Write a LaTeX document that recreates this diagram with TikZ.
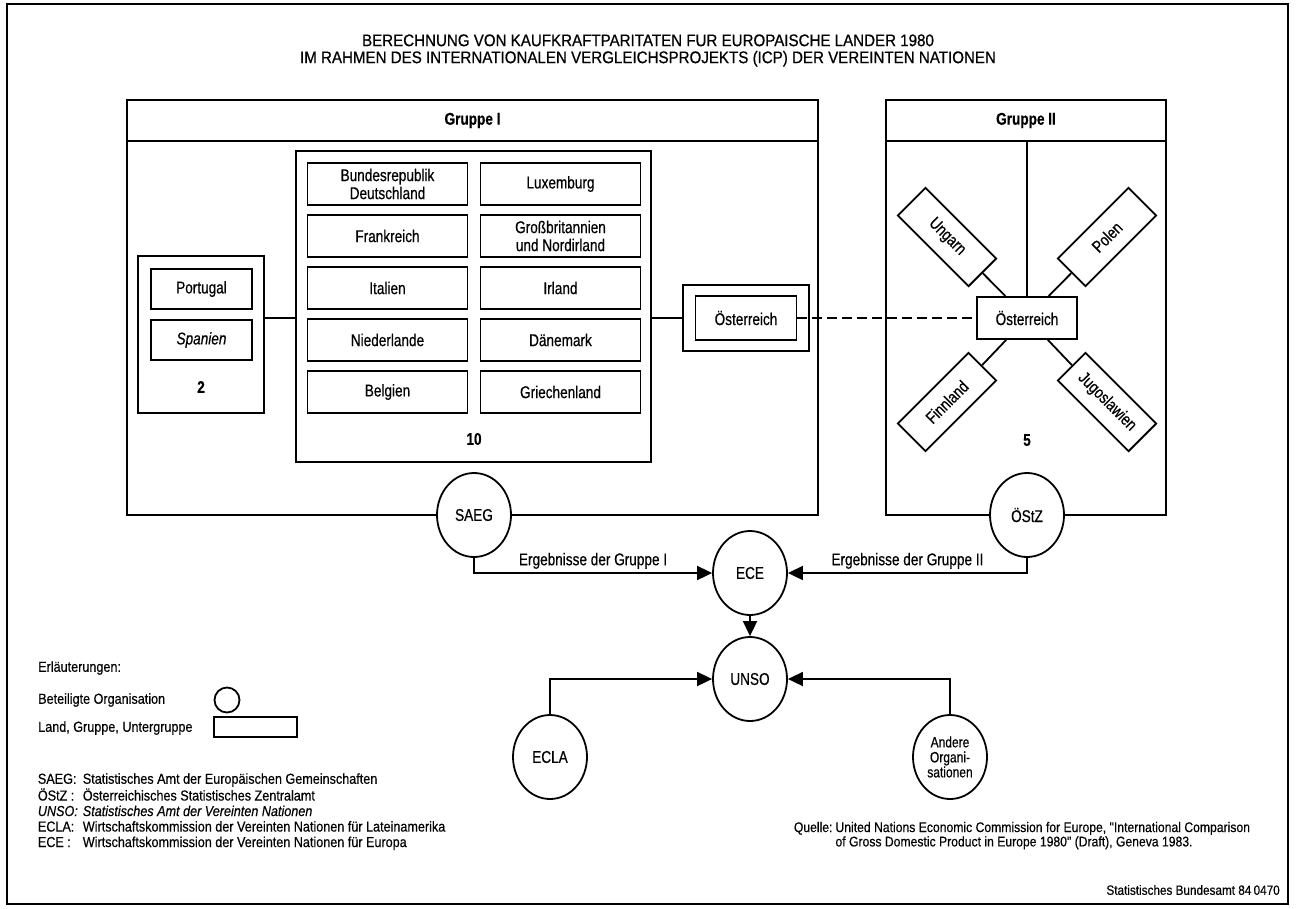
\documentclass[tikz,border=0pt]{standalone}
\usepackage{fontspec}
\setmainfont{Liberation Sans}[FakeStretch=0.8,FakeBold=0.5]
\newfontfamily\titelfont{Liberation Sans}[FakeStretch=0.9,FakeBold=0.6]
\newfontfamily\legfont{Liberation Sans}[FakeStretch=0.87,FakeBold=0.4]
\usetikzlibrary{shapes.geometric,arrows.meta,positioning}
\newcommand\grund{\fontsize{17}{18}\selectfont}
\newcommand\klein{\legfont\fontsize{14.5}{15.5}\selectfont}

\begin{document}
\begin{tikzpicture}[x=1pt,y=-1pt,>={Triangle[length=15pt,width=14pt]},line width=1.8pt,
  node distance=52pt,font=\grund,
  land node/.style={rectangle,draw,minimum width=160pt,minimum height=42pt,align=center,inner sep=2pt},
  org node/.style={ellipse,draw,fill=white,minimum width=74pt,minimum height=84pt,align=center,inner sep=1pt},
  group node/.style={rectangle,draw}]

  \useasboundingbox (0,0) rectangle (1298,908);
  \draw[line width=2pt] (7,4) rectangle (1288,904);

  \node[font=\titelfont\fontsize{16.8}{17}\selectfont,align=center] (titel) at (648,50.5)
    {BERECHNUNG VON KAUFKRAFTPARITATEN FUR EUROPAISCHE LANDER 1980\\
     IM RAHMEN DES INTERNATIONALEN VERGLEICHSPROJEKTS (ICP) DER VEREINTEN NATIONEN};

  % Gruppe I
  \node[group node,minimum width=691pt,minimum height=415pt] (g1) at (472.5,307.5) {};
  \node[group node,minimum width=691pt,minimum height=41pt,anchor=north,font=\grund\bfseries] (g1h) at (g1.north) {Gruppe I};

  \node[group node,minimum width=355pt,minimum height=311pt] (b10) at (473.5,306.5) {};
  \node[land node] (brd) at (387.5,184) {Bundesrepublik\\Deutschland};
  \node[land node] (fra) [below of=brd] {Frankreich};
  \node[land node] (ita) [below of=fra] {Italien};
  \node[land node] (nl) [below of=ita] {Niederlande};
  \node[land node] (bel) [below of=nl] {Belgien};
  \node[land node] (lux) [node distance=173pt,right of=brd] {Luxemburg};
  \node[land node] (gb) [below of=lux] {Großbritannien\\und Nordirland};
  \node[land node] (irl) [below of=gb] {Irland};
  \node[land node] (dk) [below of=irl] {Dänemark};
  \node[land node] (gr) [below of=dk] {Griechenland};
  \node[font=\grund\bfseries] (n10) at (474,439) {10};

  \node[group node,minimum width=126pt,minimum height=157pt] (b2) at (201,334.5) {};
  \node[land node,minimum width=101pt,minimum height=40pt] (por) at (201.5,289) {Portugal};
  \node[land node,minimum width=101pt,minimum height=40pt,font=\grund\itshape] (spa) [node distance=51pt,below of=por] {Spanien};
  \node[font=\grund\bfseries] (n2) at (201,387) {2};

  \node[group node,minimum width=126pt,minimum height=66pt] (oe1r) at (746,318) {};
  \node[land node,minimum width=101pt,minimum height=44pt] (oe1) at (oe1r) {Österreich};

  % Gruppe II
  \node[group node,minimum width=280pt,minimum height=415pt] (g2) at (1026,307.5) {};
  \node[group node,minimum width=280pt,minimum height=41pt,anchor=north,font=\grund\bfseries] (g2h) at (g2.north) {Gruppe II};

  \node[land node,minimum width=100pt,minimum height=42pt] (oe2) at (1027,318) {Österreich};
  \node[land node,minimum width=100pt,minimum height=39pt,rotate=-45] (ung) at (947,237) {Ungarn};
  \node[land node,minimum width=100pt,minimum height=39pt,rotate=45] (pol) at (1107,237) {Polen};
  \node[land node,minimum width=100pt,minimum height=39pt,rotate=45] (fin) at (947,402) {Finnland};
  \node[land node,minimum width=100pt,minimum height=39pt,rotate=-45] (jug) at (1107,402) {Jugoslawien};
  \node[font=\grund\bfseries] (n5) at (1027,440) {5};

  \path (b2.east |- oe1r) edge (b10.west |- oe1r)
        (b10.east |- oe1r) edge (oe1r)
        (oe2) edge (oe2 |- g2h.south)
        (ung) edge (oe2)
        (pol) edge (oe2)
        (fin) edge (oe2)
        (jug) edge (oe2);
  \path[dash pattern=on 10pt off 5pt] (oe1) edge (oe2);

  % Organisationen
  \node[org node] (saeg) at (474,515) {SAEG};
  \node[org node] (oestz) at (1027,515) {ÖStZ};
  \node[org node] (ece) at (750,573) {ECE};
  \node[org node] (unso) at (750,679) {UNSO};
  \node[org node] (ecla) at (550,757) {ECLA};
  \node[org node,font=\fontsize{15}{15}\selectfont] (andere) at (950,757) {Andere\\Organi-\\sationen};

  \draw[->] (saeg) |- node[above,pos=0.75] {Ergebnisse der Gruppe I} (ece);
  \draw[->] (oestz) |- node[above,pos=0.75] {Ergebnisse der Gruppe II} (ece);
  \draw[->] (ece) -- (unso);
  \draw[->] (ecla) |- (unso);
  \draw[->] (andere) |- (unso);

  % Erlaeuterungen
  \node[anchor=west,font=\klein] (erl) at (34,668) {Erläuterungen:};
  \node[anchor=west,font=\klein] (bet) at (34,700) {Beteiligte Organisation};
  \node[draw,circle,minimum size=25pt,inner sep=0pt] (legorg) at (227,700) {};
  \node[anchor=west,font=\klein] (lgu) at (34,728) {Land, Gruppe, Untergruppe};
  \node[draw,minimum width=83pt,minimum height=20pt,inner sep=0pt] (legland) at (255.5,727) {};

  \node[anchor=north west,font=\klein,inner sep=0pt] (abk) at (37,772)
    {\begin{tabular}{@{}l@{\hspace{5pt}}l@{}}
      SAEG: & Statistisches Amt der Europäischen Gemeinschaften\\
      ÖStZ : & Österreichisches Statistisches Zentralamt\\
      \itshape UNSO: & \itshape Statistisches Amt der Vereinten Nationen\\
      ECLA: & Wirtschaftskommission der Vereinten Nationen für Lateinamerika\\
      ECE : & Wirtschaftskommission der Vereinten Nationen für Europa
    \end{tabular}};

  \node[anchor=north west,font=\legfont\fontsize{14}{14}\selectfont,inner sep=0pt] (quelle) at (793,821)
    {\begin{tabular}{@{}l@{\hspace{3pt}}l@{}}
      Quelle: & United Nations Economic Commission for Europe, "International Comparison\\
              & of Gross Domestic Product in Europe 1980" (Draft), Geneva 1983.
    \end{tabular}};
  \node[anchor=east,font=\legfont\fontsize{13.5}{14}\selectfont] (sba) at (1284,890) {Statistisches Bundesamt 84\,0470};
\end{tikzpicture}
\end{document}
